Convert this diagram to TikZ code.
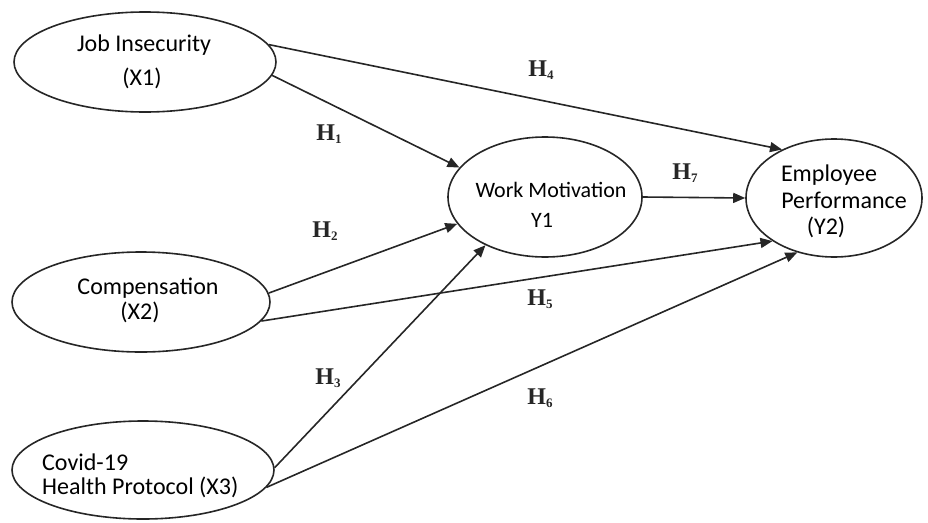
\documentclass[tikz,border=0pt]{standalone}
\usepackage{fontspec}
\setmainfont{Carlito}
\newfontfamily\hfont{Liberation Serif}
\usetikzlibrary{arrows.meta,shapes.geometric}
\begin{document}
\begin{tikzpicture}[x=1pt,y=-1pt,
  var/.style={draw=black!85, ellipse, line width=1.6pt, inner sep=0pt},
  txt/.style={inner sep=0pt, anchor=center},
  ltxt/.style={inner sep=0pt, anchor=west},
  hpath/.style={draw=black!85, line width=1.6pt, -{Triangle[length=12pt,width=10pt]}},
  hyp/.style={font=\hfont\bfseries\fontsize{24}{24}\selectfont, inner sep=0pt, text=black!85}]
\useasboundingbox (0,0) rectangle (928,522);
\newcommand{\hlab}[1]{H\raisebox{-2.5pt}{\fontsize{13}{13}\selectfont #1}}
\newcommand{\fb}{\fontsize{22}{26}\selectfont}
\newcommand{\fc}{\fontsize{24}{28}\selectfont}

% ellipses
\node[var, minimum width=262pt, minimum height=100pt] (x1) at (145,62) {};
\node[var, minimum width=258pt, minimum height=100pt] (x2) at (141,302) {};
\node[var, minimum width=262pt, minimum height=98pt] (x3) at (143,470) {};
\node[var, minimum width=194pt, minimum height=120pt] (wm) at (545,197) {};
\node[var, minimum width=176pt, minimum height=118pt] (ep) at (834,198) {};

% texts
\node[txt, font=\fc] (t1a) at (144,45) {Job Insecurity};
\node[txt, font=\fc] (t1b) at (142,78) {(X1)};
\node[txt, font=\fc] (t2a) at (148,288) {Compensation};
\node[txt, font=\fc] (t2b) at (140,312) {(X2)};
\node[ltxt, font=\fc] (t3a) at (42,462) {Covid-19};
\node[ltxt, font=\fc] (t3b) at (42,487) {Health Protocol (X3)};
\node[txt, font=\fb] (twa) at (551,190) {Work Motivation};
\node[txt, font=\fb] (twb) at (542,220) {Y1};
\node[txt, font=\fc] (tea) at (829,175) {Employee};
\node[txt, font=\fc] (teb) at (844,200) {Performance};
\node[txt, font=\fc] (tec) at (826,227) {(Y2)};

% paths
\draw[hpath] (x1.8) -- (ep.137);
\draw[hpath] (x1.-6) -- (wm.161);
\draw[hpath] (x2.4) -- (wm.197);
\draw[hpath] (x2.-9) -- (ep.215);
\draw[hpath] (x3.1) -- (wm.219);
\draw[hpath] (x3.-8) -- (ep.236);
\draw[hpath] (wm.east) -- (ep.west);

% hypothesis labels
\node[hyp] (h4) at (541,70) {\hlab{4}};
\node[hyp] (h1) at (329,134) {\hlab{1}};
\node[hyp] (h7) at (685,173) {\hlab{7}};
\node[hyp] (h2) at (325,231) {\hlab{2}};
\node[hyp] (h5) at (540,299) {\hlab{5}};
\node[hyp] (h3) at (328,378) {\hlab{3}};
\node[hyp] (h6) at (540,398) {\hlab{6}};
\end{tikzpicture}
\end{document}
